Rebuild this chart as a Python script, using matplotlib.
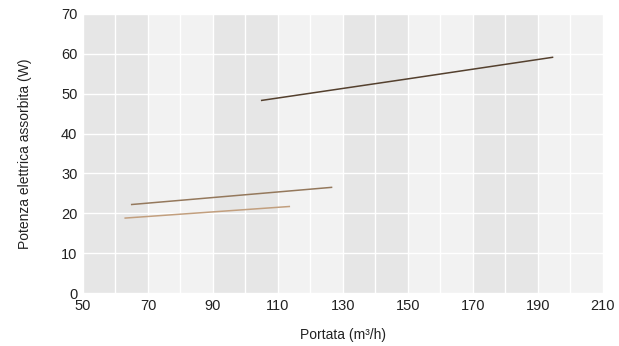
import numpy as np
import matplotlib.pyplot as plt

plt.rcParams['font.family'] = ['Liberation Sans', 'DejaVu Sans']

# curve data
x_dark = [105, 150, 194.5]
y_dark = [48.3, 53.7, 59.1]
x_mid = [65, 126.5]
y_mid = [22.2, 26.5]
x_light = [63, 113.5]
y_light = [18.8, 21.7]

x_ticks = [50, 70, 90, 110, 130, 150, 170, 190, 210]
y_ticks = [0, 10, 20, 30, 40, 50, 60, 70]

fig = plt.figure(figsize=(6.19, 3.46), dpi=100)
ax = fig.add_axes([0.134, 0.153, 0.840, 0.807])

ax.set_facecolor('#f2f2f2')
for i, x0 in enumerate(x_ticks[:-1]):
    if i % 2 == 0:
        ax.axvspan(x0, x0 + 20, color='#e6e6e6', lw=0, zorder=0)

for xv in range(50, 211, 10):
    ax.axvline(xv, color='white', lw=1.0, zorder=1)
for yv in y_ticks:
    ax.axhline(yv, color='white', lw=1.0, zorder=1)

ax.plot(x_dark, y_dark, color='#54402e', lw=1.1, zorder=3)
ax.plot(x_mid, y_mid, color='#94785c', lw=1.1, zorder=3)
ax.plot(x_light, y_light, color='#c29f7e', lw=1.1, zorder=3)

ax.set_xlim(50, 210)
ax.set_ylim(0, 70)
ax.set_xticks(x_ticks)
ax.set_yticks(y_ticks)
ax.tick_params(length=0, labelsize=10.5, colors='#222222', pad=4)
for s in ax.spines.values():
    s.set_visible(False)

ax.set_xlabel('Portata (m³/h)', fontsize=10, color='#222222', labelpad=11)
ax.set_ylabel('Potenza elettrica assorbita (W)', fontsize=10, color='#222222', labelpad=21)

fig.savefig('out.png', dpi=100)
